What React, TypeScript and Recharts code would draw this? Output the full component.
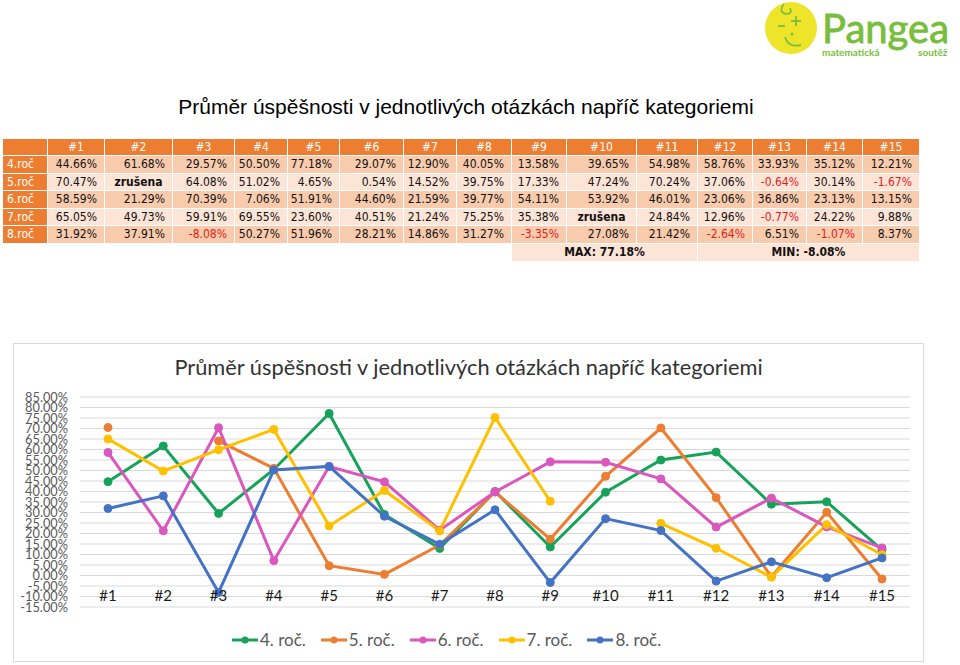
import { LineChart, Line, XAxis, YAxis, CartesianGrid } from 'recharts';

const questions = ['#1', '#2', '#3', '#4', '#5', '#6', '#7', '#8', '#9', '#10', '#11', '#12', '#13', '#14', '#15'];
const gradeLabels = ['4.roč', '5.roč', '6.roč', '7.roč', '8.roč'];
const legendLabels = ['4. roč.', '5. roč.', '6. roč.', '7. roč.', '8. roč.'];

// null = otázka zrušena
const grade4 = [44.66, 61.68, 29.57, 50.5, 77.18, 29.07, 12.9, 40.05, 13.58, 39.65, 54.98, 58.76, 33.93, 35.12, 12.21];
const grade5 = [70.47, null, 64.08, 51.02, 4.65, 0.54, 14.52, 39.75, 17.33, 47.24, 70.24, 37.06, -0.64, 30.14, -1.67];
const grade6 = [58.59, 21.29, 70.39, 7.06, 51.91, 44.6, 21.59, 39.77, 54.11, 53.92, 46.01, 23.06, 36.86, 23.13, 13.15];
const grade7 = [65.05, 49.73, 59.91, 69.55, 23.6, 40.51, 21.24, 75.25, 35.38, null, 24.84, 12.96, -0.77, 24.22, 9.88];
const grade8 = [31.92, 37.91, -8.08, 50.27, 51.96, 28.21, 14.86, 31.27, -3.35, 27.08, 21.42, -2.64, 6.51, -1.07, 8.37];

const yTicks = [-15, -10, -5, 0, 5, 10, 15, 20, 25, 30, 35, 40, 45, 50, 55, 60, 65, 70, 75, 80, 85];

const title = 'Průměr úspěšnosti v jednotlivých otázkách napříč kategoriemi';
const cancelled = 'zrušena';

const allSeries = [grade4, grade5, grade6, grade7, grade8];
const keys = ['g4', 'g5', 'g6', 'g7', 'g8'];
const colors = ['#17A25A', '#ED7D31', '#D957BE', '#FFC000', '#4472C4'];

const chartData = questions.map((q, i) => {
  const row: Record<string, any> = { q };
  keys.forEach((k, s) => (row[k] = allSeries[s][i]));
  return row;
});

const flat = allSeries.flat().filter((v) => v !== null) as number[];
const maxVal = Math.max(...flat);
const minVal = Math.min(...flat);

// table layout
const colEdges = [3, 48, 105, 173, 235, 288, 340, 404, 457, 512, 567, 637, 698, 753, 807, 863, 920];
const TABLE_TOP = 139;
const HEAD_H = 17;
const ROW_H = 17.5;
const ORANGE = '#ED7D31';
const tableFont = '"DejaVu Sans Condensed", "DejaVu Sans", sans-serif';

const fmt = (v: number) => `${v.toFixed(2)}%`;

function Cell({ c, top, h, bg, children, style }: any) {
  return (
    <div
      style={{
        position: 'absolute',
        left: colEdges[c],
        top,
        width: colEdges[c + 1] - colEdges[c],
        height: h,
        lineHeight: `${h}px`,
        background: bg,
        boxSizing: 'border-box',
        borderRight: '1px solid #fff',
        borderBottom: '1px solid #fff',
        whiteSpace: 'nowrap',
        fontFamily: tableFont,
        fontSize: 12,
        ...style,
      }}
    >
      {children}
    </div>
  );
}

function ScoreTable() {
  const cells: any[] = [];
  cells.push(<Cell key="h0" c={0} top={TABLE_TOP} h={HEAD_H} bg={ORANGE} />);
  questions.forEach((q, i) =>
    cells.push(
      <Cell key={'h' + q} c={i + 1} top={TABLE_TOP} h={HEAD_H} bg={ORANGE} style={{ color: '#fff', textAlign: 'center' }}>
        {q}
      </Cell>
    )
  );
  allSeries.forEach((vals, r) => {
    const top = TABLE_TOP + HEAD_H + r * ROW_H;
    const bg = r % 2 === 0 ? '#F8CBAD' : '#FCE4D6';
    cells.push(
      <Cell key={'l' + r} c={0} top={top} h={ROW_H} bg={ORANGE} style={{ color: '#fff', paddingLeft: 4 }}>
        {gradeLabels[r]}
      </Cell>
    );
    vals.forEach((v, i) =>
      cells.push(
        <Cell
          key={r + '-' + i}
          c={i + 1}
          top={top}
          h={ROW_H}
          bg={bg}
          style={
            v === null
              ? { textAlign: 'center', fontWeight: 'bold', color: '#111' }
              : { textAlign: 'right', paddingRight: 7, color: v < 0 ? '#E31B1B' : '#111' }
          }
        >
          {v === null ? cancelled : fmt(v)}
        </Cell>
      )
    );
  });
  const lastTop = TABLE_TOP + HEAD_H + 5 * ROW_H;
  const merged = (from: number, to: number, text: string, key: string) => (
    <div
      key={key}
      style={{
        position: 'absolute',
        left: colEdges[from],
        top: lastTop,
        width: colEdges[to] - colEdges[from],
        height: ROW_H,
        lineHeight: `${ROW_H}px`,
        background: '#FCE4D6',
        boxSizing: 'border-box',
        borderRight: '1px solid #fff',
        textAlign: 'center',
        fontFamily: tableFont,
        fontSize: 12,
        fontWeight: 'bold',
        color: '#111',
      }}
    >
      {text}
    </div>
  );
  cells.push(merged(9, 12, `MAX: ${fmt(maxVal)}`, 'max'));
  cells.push(merged(12, 16, `MIN: ${fmt(minVal)}`, 'min'));
  return <>{cells}</>;
}

function Logo() {
  const green = '#78BE3C';
  return (
    <svg style={{ position: 'absolute', left: 760, top: 0 }} width={200} height={62}>
      <circle cx={31} cy={28} r={26} fill="#EEE52A" />
      <path d="M24 4 Q18 12 26 14 Q33 14 30 8" fill="none" stroke={green} strokeWidth={1.6} />
      <line x1={18} y1={26} x2={25} y2={26} stroke={green} strokeWidth={1.8} />
      <line x1={31} y1={21} x2={41} y2={21} stroke={green} strokeWidth={1.8} />
      <line x1={36} y1={16} x2={36} y2={26} stroke={green} strokeWidth={1.8} />
      <circle cx={32} cy={34} r={1.5} fill={green} />
      <path d="M25 37 Q28 48 41 45" fill="none" stroke={green} strokeWidth={1.8} />
      <text x={62} y={43} fontFamily="Lato, sans-serif" fontSize={40} fill={green} stroke={green} strokeWidth={0.8}>
        Pangea
      </text>
      <text x={62} y={56} fontFamily="Lato, sans-serif" fontSize={10} fontWeight="bold" fill={green}>
        matematická
      </text>
      <text x={158} y={56} fontFamily="Lato, sans-serif" fontSize={10} fontWeight="bold" fill={green}>
        soutěž
      </text>
    </svg>
  );
}

function QTick({ x, y, payload }: any) {
  return (
    <text x={x} y={y - 11} dy="0.35em" textAnchor="middle" fontFamily="Lato, sans-serif" fontSize={15} fill="#1a1a1a">
      {payload.value}
    </text>
  );
}

export default function App() {
  return (
    <div style={{ position: 'absolute', left: 0, top: 0, width: 960, height: 665, background: '#fff', overflow: 'hidden' }}>
      <Logo />
      <div
        style={{
          position: 'absolute',
          left: 0,
          top: 95,
          width: 932,
          textAlign: 'center',
          fontFamily: '"Liberation Sans", Arial, sans-serif',
          fontSize: 21,
          color: '#000',
        }}
      >
        {title}
      </div>
      <ScoreTable />

      <div
        style={{
          position: 'absolute',
          left: 13,
          top: 343,
          width: 911,
          height: 319,
          boxSizing: 'border-box',
          border: '1px solid #D9D9D9',
        }}
      />
      <div
        style={{
          position: 'absolute',
          left: 13,
          top: 353,
          width: 911,
          textAlign: 'center',
          fontFamily: 'Lato, sans-serif',
          fontSize: 21.8,
          color: '#333',
        }}
      >
        {title}
      </div>
      <div style={{ position: 'absolute', left: 0, top: 343 }}>
        <LineChart width={924} height={300} data={chartData} margin={{ top: 54, right: 14, bottom: 16, left: 0 }}>
          <CartesianGrid vertical={false} stroke="#D9D9D9" />
          <XAxis
            dataKey="q"
            axisLine={false}
            tickLine={false}
            tickSize={0}
            tickMargin={0}
            height={20}
            interval={0}
            padding={{ left: 28, right: 28 }}
            tick={<QTick />}
          />
          <YAxis
            type="number"
            domain={[-15, 85]}
            ticks={yTicks}
            interval={0}
            width={80}
            axisLine={false}
            tickLine={false}
            tickSize={0}
            tickMargin={12}
            tick={{ fill: '#595959', fontSize: 12.8, fontFamily: 'Lato, sans-serif' }}
            tickFormatter={(v: number) => fmt(v)}
          />
          {keys.map((k, s) => (
            <Line
              key={k}
              dataKey={k}
              name={legendLabels[s]}
              type="linear"
              stroke={colors[s]}
              strokeWidth={3}
              dot={{ r: 4, fill: colors[s], stroke: colors[s], strokeWidth: 1 }}
              activeDot={false}
              connectNulls={false}
              isAnimationActive={false}
            />
          ))}
        </LineChart>
      </div>
      <div style={{ position: 'absolute', left: 232, top: 629, display: 'flex', alignItems: 'center' }}>
        {legendLabels.map((name, s) => (
          <div key={name} style={{ display: 'flex', alignItems: 'center', marginRight: 15 }}>
            <svg width={26} height={12}>
              <line x1={0} y1={6} x2={26} y2={6} stroke={colors[s]} strokeWidth={3} />
              <circle cx={13} cy={6} r={3.5} fill={colors[s]} />
            </svg>
            <span style={{ marginLeft: 2, fontFamily: 'Lato, sans-serif', fontSize: 17, color: '#595959' }}>{name}</span>
          </div>
        ))}
      </div>
    </div>
  );
}
